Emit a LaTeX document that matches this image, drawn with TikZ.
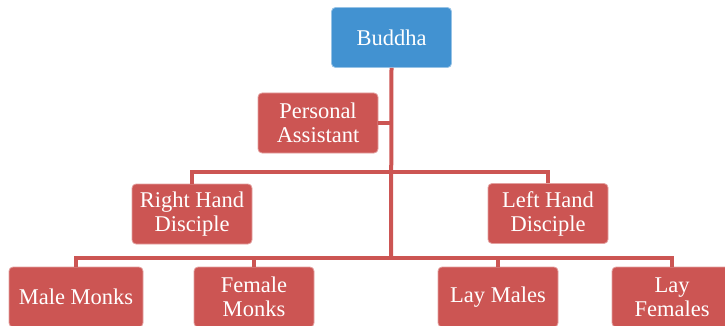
\documentclass[tikz,border=0pt]{standalone}
\usepackage{fontspec}
\setmainfont{Liberation Serif}
\usepackage{tikz}
\definecolor{leaderblue}{RGB}{66,146,209}
\definecolor{memberred}{RGB}{204,85,83}

\begin{document}
\begin{tikzpicture}[x=1pt, y=-1pt,
  member/.style={draw=memberred!55!white, line width=0.8pt, fill=memberred, rounded corners=4pt,
                 minimum width=120pt, minimum height=60pt, align=center, text=white,
                 font=\fontsize{22.5}{24}\selectfont, inner sep=2pt},
  leader/.style={member, fill=leaderblue, draw=leaderblue!55!white},
  link/.style={line width=4pt, color=memberred}
]
\useasboundingbox (0,0) rectangle (725,326);
\clip (0,0) rectangle (725,326);
\coordinate (mid) at (391,172);
\coordinate (low) at (391,258);
\node[leader] (b) at (391.5,37.5) {Buddha};
\node[member] (pa) at (318,123) {Personal\\Assistant};
\node[member] (rhd) at (192,214) {Right Hand\\Disciple};
\node[member] (lhd) at (548,213.5) {Left Hand\\Disciple};
\node[member, minimum width=134pt] (mm) at (76,297) {Male Monks};
\node[member] (fm) at (254,297) {Female\\Monks};
\node[member] (lm) at (498,297) {Lay Males};
\node[member] (lf) at (672,297) {Lay\\Females};
\draw[link] (b.south) -- (low);
\draw[link] (pa.east) -- (pa.east -| b.south);
\draw[link] (rhd.north) |- (mid) -| (lhd.north);
\draw[link] (mm.north) |- (low) -| (lf.north);
\draw[link] (fm.north) -- (fm.north |- low);
\draw[link] (lm.north) -- (lm.north |- low);
\end{tikzpicture}
\end{document}
